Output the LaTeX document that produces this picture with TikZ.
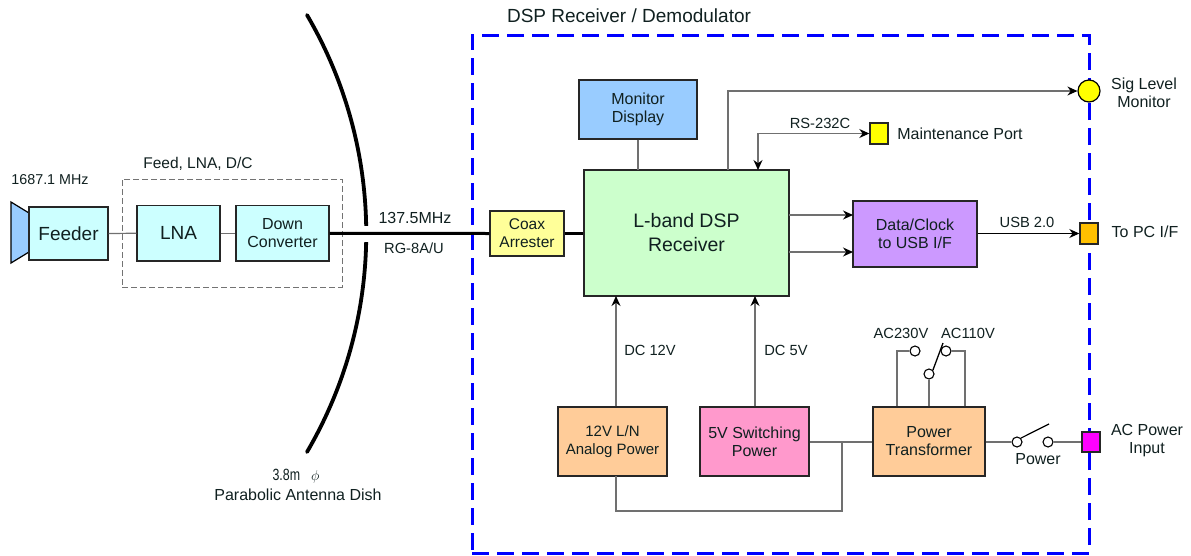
\documentclass[tikz,border=0pt]{standalone}
\usepackage{fontspec}
\setmainfont{Liberation Sans}
\usetikzlibrary{arrows.meta,calc}
\definecolor{txt}{HTML}{102020}
\definecolor{wire}{HTML}{707070}
\definecolor{pureblue}{HTML}{0000FF}
\definecolor{hornb}{HTML}{99CCFF}
\definecolor{cyanb}{HTML}{CCFFFF}
\definecolor{yelb}{HTML}{FFFF99}
\definecolor{grnb}{HTML}{CCFFCC}
\definecolor{bluB}{HTML}{99CCFF}
\definecolor{purb}{HTML}{CC99FF}
\definecolor{orab}{HTML}{FFCC99}
\definecolor{pinb}{HTML}{FF99CC}
\definecolor{pcb}{HTML}{FFC000}
\definecolor{puryel}{HTML}{FFFF00}
\definecolor{purmag}{HTML}{FF00FF}
\tikzset{
  x=1pt,y=-1pt,
  every node/.style={text=txt,font=\fontsize{16}{18}\selectfont,inner sep=0pt,align=center},
  blk/.style={draw=black!85,line width=1.4pt,inner sep=0pt},
  wirel/.style={draw=wire,line width=1.2pt},
  arr/.style={wirel,-{Stealth[length=10pt,width=9pt,color=black]}},
  darr/.style={wirel,{Stealth[length=10pt,width=9pt,color=black]}-{Stealth[length=10pt,width=9pt,color=black]}},
  coax/.style={draw=black,line width=3pt},
  contact/.style={circle,draw=black,line width=1.1pt,fill=white,minimum size=10pt},
  lbl/.style={anchor=center},
  small/.style={font=\fontsize{14.7}{17}\selectfont},
  big/.style={font=\fontsize{19.5}{24}\selectfont},
}
\newcommand{\boxat}[8][]{% [opts] name,x0,y0,x1,y1,fill,text
  \node[blk,fill=#7,minimum width={(#5-#3)*1pt},minimum height={(#6-#4)*1pt},#1] (#2) at ({(#3+#5)/2},{(#4+#6)/2}) {#8};}
\begin{document}
\begin{tikzpicture}
\useasboundingbox (0,0) rectangle (1191,555);
% dish
\draw[line width=3.8pt,line cap=round] (307,15) .. controls (386,150) and (386,317) .. (307,452);
\fill[white] (358,226) rectangle (372,242);
% dashed groups
\node[draw=black!55,line width=1pt,dash pattern=on 6pt off 3pt,minimum width=220pt,minimum height=108pt] (feedgroup) at (232,233) {};
\node[draw=pureblue,line width=3pt,dash pattern=on 17pt off 8pt,minimum width=617pt,minimum height=518pt] (dspgroup) at (780.5,294) {};
% horn
\draw[fill=hornb,draw=black,line width=1.2pt,line join=miter] (11,202) -- (29,213) -- (32,217) -- (32,249) -- (29,252) -- (11,263) -- cycle;
% boxes
\boxat[font=\fontsize{19}{22}\selectfont]{feeder}{29}{207}{108}{260}{cyanb}{Feeder}
\boxat[font=\fontsize{19}{22}\selectfont]{lna}{137}{205.5}{220}{261}{cyanb}{LNA}
\boxat{down}{236}{205.5}{329}{261}{cyanb}{Down\\Converter}
\boxat[font=\fontsize{15.5}{18}\selectfont]{coaxarr}{490}{211}{564}{256}{yelb}{Coax\\Arrester}
\boxat[big]{recv}{584}{170}{789}{296}{grnb}{L-band DSP\\Receiver}
\boxat{mon}{579}{80}{697}{139}{bluB}{Monitor\\Display}
\boxat{data}{853}{201}{977}{267}{purb}{Data/Clock\\to USB I/F}
\boxat[font=\fontsize{15}{18}\selectfont]{analog}{558}{407}{667}{476}{orab}{12V L/N\\Analog Power}
\boxat{switching}{700}{407}{809}{476}{pinb}{5V Switching\\Power}
\boxat{trans}{873}{407}{985}{476}{orab}{Power\\Transformer}
% ports
\node[circle,draw=black,line width=1.2pt,fill=puryel,minimum size=22pt] (sig) at (1089,91) {};
\boxat{maint}{870}{123}{888}{144}{puryel}{}
\boxat{pc}{1080}{223}{1098}{244}{pcb}{}
\boxat{acin}{1082}{432}{1100}{452}{purmag}{}
% helper coordinates
\coordinate (sigup) at (728,170);
\coordinate (rsup) at (758,170);
\coordinate (monlow) at (638,170);
\coordinate (rx1) at (789,215);
\coordinate (rx2) at (789,252);
\coordinate (dx1) at (853,215);
\coordinate (dx2) at (853,252);
\coordinate (a12) at (616,296);
\coordinate (a5) at (755,296);
\coordinate (bus) at (842,442);
\coordinate (busl) at (616,476);
% contacts
\node[contact] (pw1) at (1017,442) {};
\node[contact] (pw2) at (1048,442) {};
\coordinate (pwtip) at (1049,424);
\node[contact] (ac230) at (915,351) {};
\node[contact] (ac110) at (946,351) {};
\node[contact] (accom) at (929,374) {};
\coordinate (actip) at (943,343);
% connectors
\draw[wirel] (feeder.east) -- (lna.west);
\draw[wirel] (lna.east) -- (down.west);
\draw[coax] (down.east) -- (coaxarr.west);
\draw[coax] (coaxarr.east) -- (recv.west |- coaxarr.east);
\draw[wirel] (mon.south -| monlow) -- (monlow);
\draw[arr] (sigup) |- (sig.west);
\draw[darr] (rsup) |- (maint.west);
\draw[arr] (rx1) -- (dx1);
\draw[arr] (rx2) -- (dx2);
\draw[draw=black,line width=1pt,-{Stealth[length=10pt,width=9pt]}] (data.east |- pc.west) -- (pc.west);
\draw[arr] (analog.north -| a12) -- (a12);
\draw[arr] (switching.north -| a5) -- (a5);
\draw[wirel] (trans.west |- bus) -- (switching.east |- bus);
\draw[wirel] (bus) |- (616,511) -- (busl);
\draw[wirel] (trans.east |- pw1) -- (pw1.west);
\draw[wirel] (pw2.east) -- (acin.west |- pw2);
\draw[line width=1.2pt] (pw1.north east) -- (pwtip);
\draw[wirel] (trans.north -| 897,0) |- (ac230.west);
\draw[wirel] (trans.north -| 965,0) |- (ac110.east);
\draw[wirel] (trans.north -| accom) -- (accom.south);
\draw[line width=1.3pt] (accom.north east) -- (actip);
% labels
\node[lbl,font=\fontsize{19}{22}\selectfont] (titlelab) at (629,16) {DSP Receiver / Demodulator};
\node[lbl,font=\fontsize{14.3}{17}\selectfont] (freqlab) at (50,180) {1687.1 MHz};
\node[lbl,font=\fontsize{15.5}{18}\selectfont] (feedlab) at (198,164) {Feed, LNA, D/C};
\node[lbl] (iflab) at (415,218) {137.5MHz};
\node[lbl,small] (rglab) at (414,248) {RG-8A/U};
\node[lbl,font=\fontsize{15.5}{18}\selectfont] (sizelab) at (296,476) {\scalebox{0.8}[1.05]{3.8m}\hspace{11pt}$\phi$};
\node[lbl] (dishlab) at (298,495) {Parabolic Antenna Dish};
\node[lbl,small] (rslab) at (820,123) {RS-232C};
\node[lbl] (maintlab) at (960,134) {Maintenance Port};
\node[lbl] (siglab) at (1144,92.5) {Sig Level\\Monitor};
\node[lbl,small] (usblab) at (1027,222) {USB 2.0};
\node[lbl] (pclab) at (1145,232) {To PC I/F};
\node[lbl,small] (dc12) at (650,350) {DC 12V};
\node[lbl,small] (dc5) at (786,350) {DC 5V};
\node[lbl,small] (l230) at (901,333) {AC230V};
\node[lbl,small] (l110) at (968,333) {AC110V};
\node[lbl] (pwlab) at (1038,459) {Power};
\node[lbl] (aclab) at (1147,441) {AC Power\\Input};
\end{tikzpicture}
\end{document}
